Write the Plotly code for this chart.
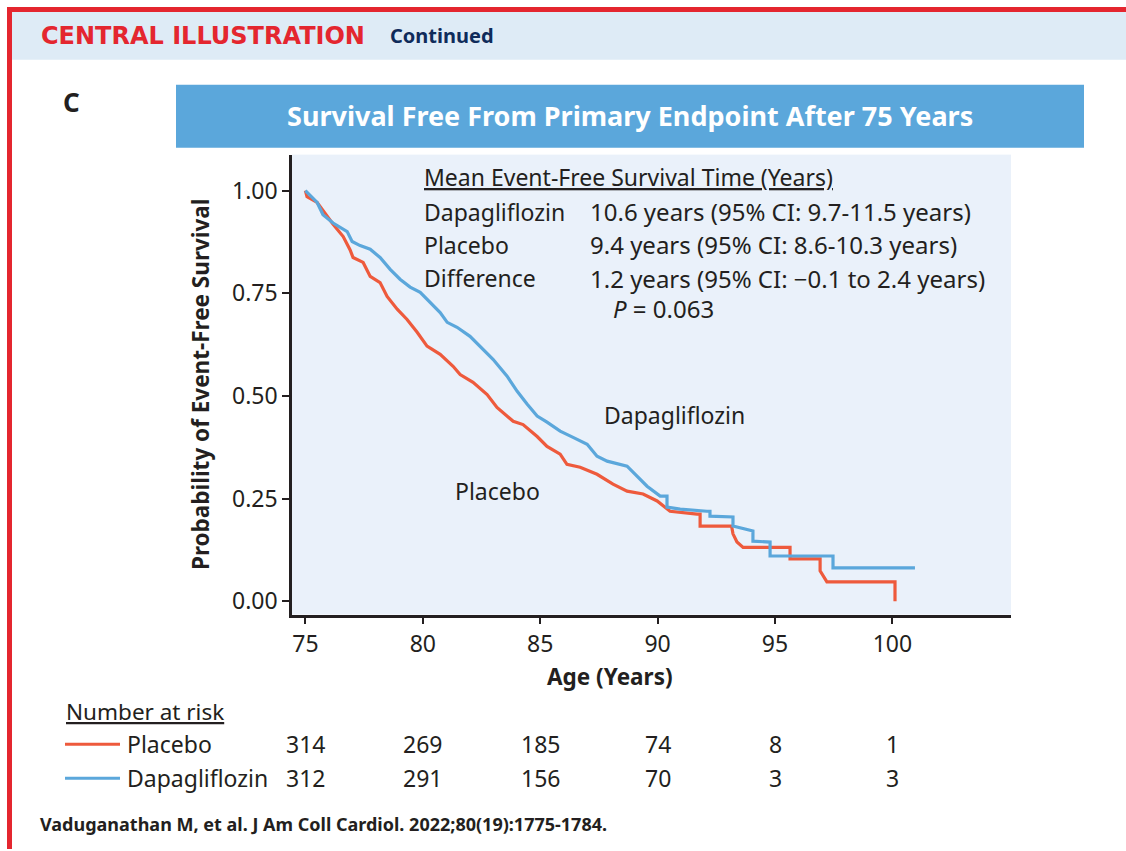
import plotly.graph_objects as go

W, H = 1126, 851

# ---------------- data ----------------
dapa_time = [75.0, 75.5, 75.75, 76.18, 76.78, 76.99, 77.33, 77.76, 78.18, 78.61, 79.03, 79.46, 79.89,
             80.31, 80.74, 81.04, 81.46, 82.01, 82.44, 82.99, 83.59, 84.02, 84.44, 84.87, 85.29, 85.85,
             86.40, 87.00, 87.42, 87.85, 88.70, 89.13, 89.55, 90.11, 90.40, 90.40, 90.96, 92.10, 92.23,
             92.23, 93.09, 93.21, 93.21, 93.94, 94.06, 94.06, 94.79, 94.79, 97.47, 97.47, 100.96]
dapa_surv = [1.0, 0.971, 0.941, 0.921, 0.900, 0.876, 0.866, 0.857, 0.837, 0.808, 0.784, 0.765, 0.752,
             0.728, 0.703, 0.679, 0.667, 0.645, 0.621, 0.589, 0.548, 0.511, 0.480, 0.451, 0.436, 0.414,
             0.399, 0.382, 0.353, 0.341, 0.329, 0.305, 0.280, 0.256, 0.256, 0.229, 0.224, 0.219, 0.219,
             0.207, 0.205, 0.205, 0.183, 0.171, 0.171, 0.146, 0.144, 0.110, 0.110, 0.081, 0.081]

plac_time = [75.0, 75.07, 75.5, 76.18, 76.61, 76.90, 77.03, 77.46, 77.76, 78.18, 78.48, 78.91, 79.33,
             79.76, 80.18, 80.74, 81.29, 81.59, 82.14, 82.74, 83.16, 83.42, 83.85, 84.27, 84.87, 85.29,
             85.85, 86.14, 86.70, 87.42, 88.10, 88.70, 89.38, 89.98, 90.53, 91.68, 91.81, 91.81, 93.15,
             93.21, 93.38, 93.64, 95.64, 95.64, 96.92, 96.92, 97.21, 100.11, 100.11]
plac_surv = [1.0, 0.985, 0.971, 0.918, 0.888, 0.856, 0.837, 0.825, 0.791, 0.776, 0.742, 0.711, 0.686,
             0.655, 0.621, 0.601, 0.572, 0.552, 0.533, 0.503, 0.472, 0.460, 0.438, 0.430, 0.401, 0.377,
             0.358, 0.333, 0.326, 0.309, 0.285, 0.268, 0.261, 0.244, 0.219, 0.212, 0.212, 0.183, 0.183,
             0.164, 0.144, 0.131, 0.131, 0.103, 0.103, 0.074, 0.047, 0.047, 0.0]

x_ticks = [75, 80, 85, 90, 95, 100]
y_ticks = [0.0, 0.25, 0.50, 0.75, 1.00]
y_tick_labels = ["0.00", "0.25", "0.50", "0.75", "1.00"]

risk_placebo = [314, 269, 185, 74, 8, 1]
risk_dapa = [312, 291, 156, 70, 3, 3]

stats_labels = ["Dapagliflozin", "Placebo", "Difference"]
stats_values = ["10.6 years (95% CI: 9.7-11.5 years)",
                "9.4 years (95% CI: 8.6-10.3 years)",
                "1.2 years (95% CI: \u22120.1 to 2.4 years)"]

# ---------------- styles ----------------
RED = "#ee5a3c"
BLUE = "#5ba7db"
DARK = "#231f20"
FONT = "Noto Sans"
FS = 23


def fx(px):
    return px / W


def fy(py):
    return 1 - py / H


fig = go.Figure()
fig.add_trace(go.Scatter(x=plac_time, y=plac_surv, mode="lines",
                         line=dict(color=RED, width=3.2), name="Placebo", hoverinfo="skip"))
fig.add_trace(go.Scatter(x=dapa_time, y=dapa_surv, mode="lines",
                         line=dict(color=BLUE, width=3.2), name="Dapagliflozin", hoverinfo="skip"))

shapes = []
# header band
shapes.append(dict(type="rect", xref="paper", yref="paper", x0=fx(10), x1=fx(W), y0=fy(60), y1=fy(10),
                   fillcolor="#deebf6", line=dict(width=0), layer="below"))
# red border top and left
shapes.append(dict(type="rect", xref="paper", yref="paper", x0=fx(7), x1=fx(W), y0=fy(12), y1=fy(7),
                   fillcolor="#e4262f", line=dict(width=0)))
shapes.append(dict(type="rect", xref="paper", yref="paper", x0=fx(7), x1=fx(12), y0=fy(H), y1=fy(7),
                   fillcolor="#e4262f", line=dict(width=0)))
# title box
shapes.append(dict(type="rect", xref="paper", yref="paper", x0=fx(176), x1=fx(1084), y0=fy(148), y1=fy(85),
                   fillcolor="#5ba7db", line=dict(width=0), layer="below"))
# risk-table legend lines
shapes.append(dict(type="line", xref="paper", yref="paper", x0=fx(65), x1=fx(120), y0=fy(746), y1=fy(746),
                   line=dict(color=RED, width=3)))
shapes.append(dict(type="line", xref="paper", yref="paper", x0=fx(65), x1=fx(120), y0=fy(780), y1=fy(780),
                   line=dict(color=BLUE, width=3)))

ann = []


def text(x, y, s, size=FS, color=DARK, xanchor="left", bold=False, **kw):
    d = dict(xref="paper", yref="paper", x=fx(x), y=fy(y), text=s, showarrow=False,
             xanchor=xanchor, yanchor="middle",
             font=dict(family=FONT, size=size, color=color, weight="bold" if bold else "normal"))
    d["font"].update(kw.pop("font_extra", {}))
    d.update(kw)
    ann.append(d)


# header
ann.append(dict(xref="paper", yref="paper", x=fx(39), y=fy(36), text="CENTRAL ILLUSTRATION",
                showarrow=False, xanchor="left", yanchor="middle",
                font=dict(family="DejaVu Sans", size=24, color="#e4262f", weight="bold")))
text(388, 36, "Continued", size=20, color="#0f2b5b", bold=True)
text(61, 102, "C", size=26, bold=True)
text(630, 116, "Survival Free From Primary Endpoint After 75 Years", size=27, color="white",
     xanchor="center", bold=True)

# stats box
text(422, 177, "Mean Event-Free Survival Time (Years)", font_extra=dict(lineposition="under"))
for i, (lab, val) in enumerate(zip(stats_labels, stats_values)):
    yy = 212 + i * 33.5
    text(422, yy, lab)
    text(588, yy, val, size=24)
text(611, 309, "<i>P</i> = 0.063", size=24)

# curve labels
text(602, 416, "Dapagliflozin")
text(453, 492, "Placebo")

# axis titles
text(610, 678, "Age (Years)", size=22.5, xanchor="center", bold=True)
ann.append(dict(xref="paper", yref="paper", x=fx(200), y=fy(385), text="Probability of Event-Free Survival",
                showarrow=False, textangle=-90, xanchor="center", yanchor="middle",
                font=dict(family=FONT, size=22.5, color=DARK, weight="bold")))

# risk table
text(64, 713, "Number at risk", size=22.5, font_extra=dict(lineposition="under"))
text(125, 746, "Placebo")
text(125, 780, "Dapagliflozin")
for xt, rp, rd in zip(x_ticks, risk_placebo, risk_dapa):
    ann.append(dict(xref="x", yref="paper", x=xt, y=fy(746), text=str(rp), showarrow=False,
                    xanchor="center", yanchor="middle", font=dict(family=FONT, size=FS, color=DARK)))
    ann.append(dict(xref="x", yref="paper", x=xt, y=fy(780), text=str(rd), showarrow=False,
                    xanchor="center", yanchor="middle", font=dict(family=FONT, size=FS, color=DARK)))

# footer
text(38, 826, "Vaduganathan M, et al. J Am Coll Cardiol. 2022;80(19):1775-1784.", size=18, bold=True)

fig.update_layout(
    width=W, height=H, autosize=False,
    margin=dict(l=0, r=0, t=0, b=0),
    paper_bgcolor="white", plot_bgcolor="#eaf1fa",
    showlegend=False,
    shapes=shapes, annotations=ann,
    font=dict(family=FONT, color=DARK),
    xaxis=dict(domain=[fx(292), fx(1011)], range=[74.43, 105.05], tickvals=x_ticks,
               ticks="outside", ticklen=7, tickwidth=2, tickcolor=DARK,
               showline=True, linewidth=2.5, linecolor=DARK, showgrid=False, zeroline=False,
               tickfont=dict(family=FONT, size=FS, color=DARK)),
    yaxis=dict(domain=[fy(616), fy(155)], range=[-0.0326, 1.0875], tickvals=y_ticks, ticktext=y_tick_labels,
               ticks="outside", ticklen=7, tickwidth=2, tickcolor=DARK,
               showline=True, linewidth=2.5, linecolor=DARK, showgrid=False, zeroline=False,
               tickfont=dict(family=FONT, size=FS, color=DARK)),
)

fig.write_html("out.html", config={"displayModeBar": False},
               post_script="document.body.style.margin='0';document.body.style.overflow='hidden';")
